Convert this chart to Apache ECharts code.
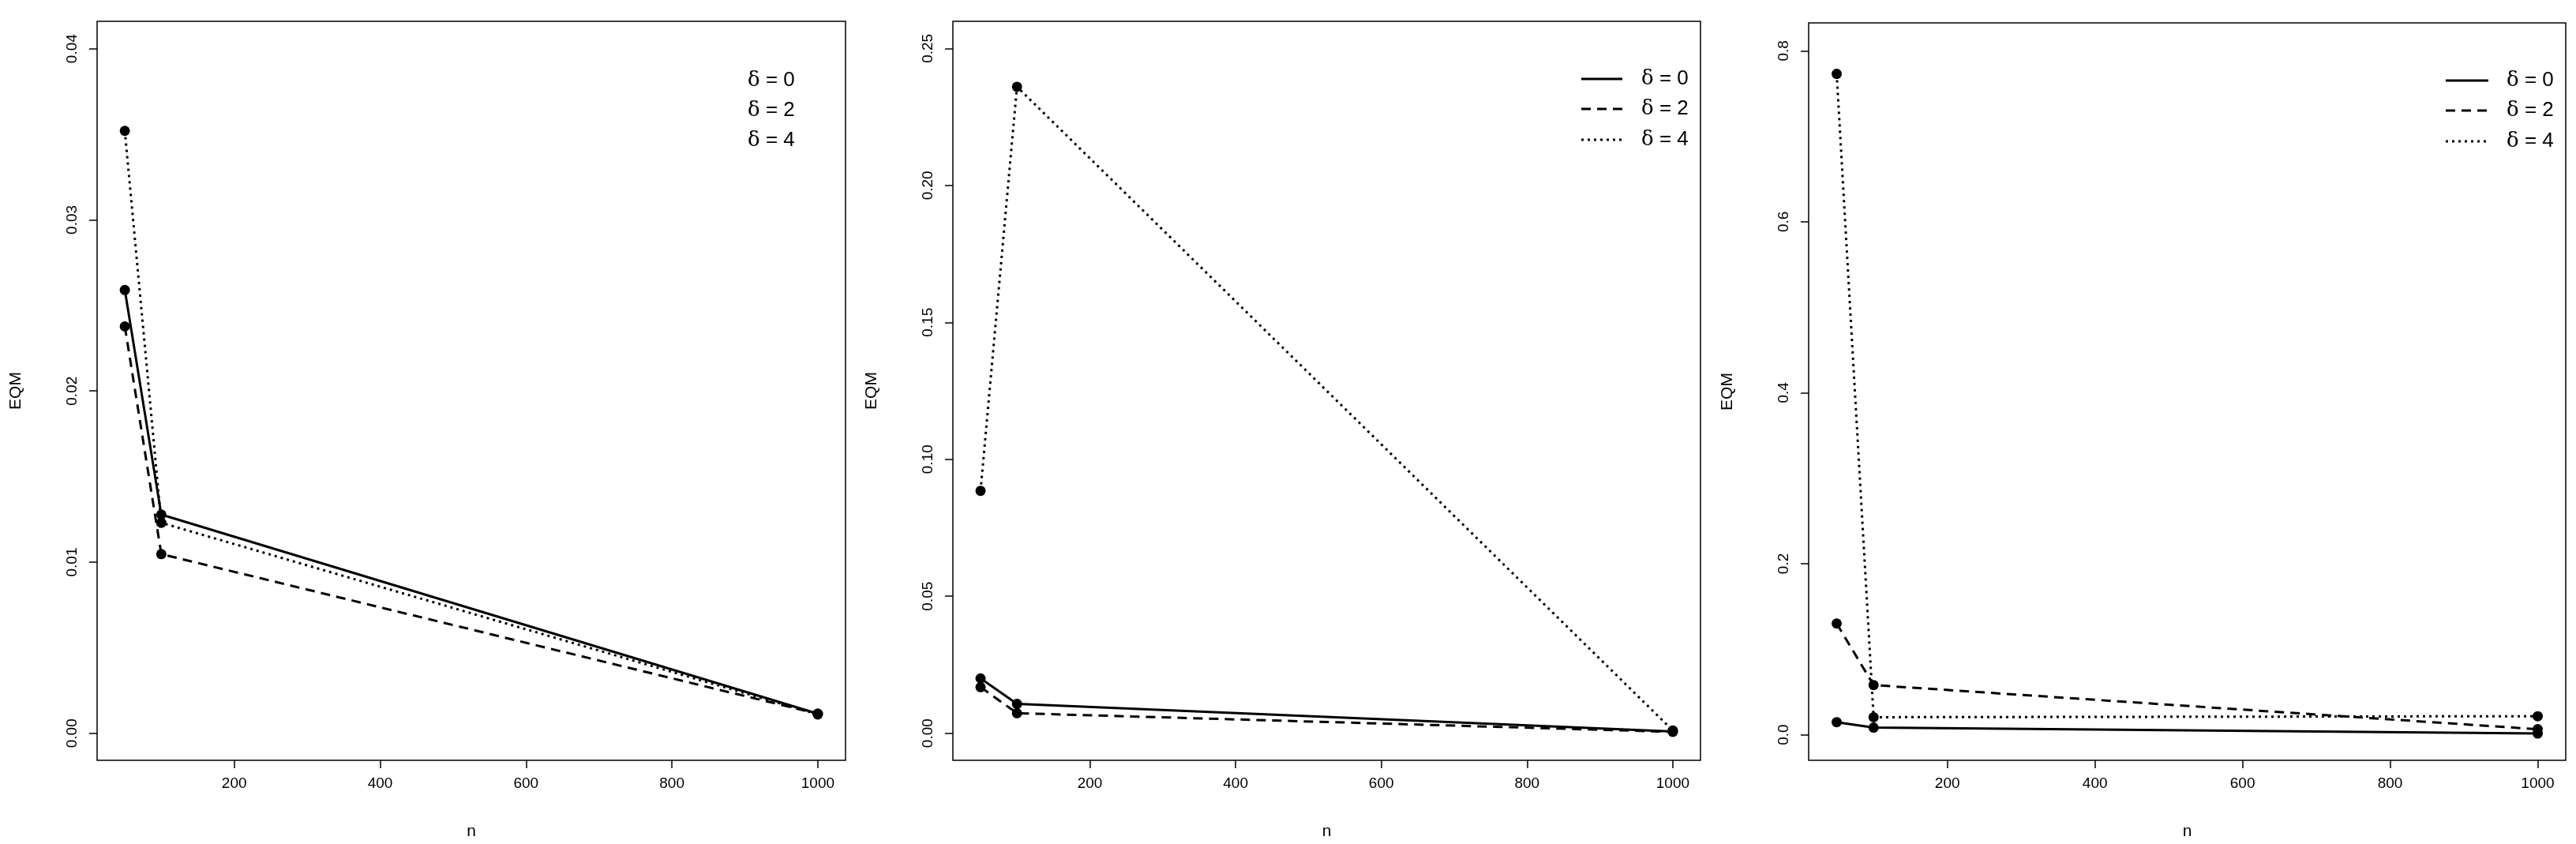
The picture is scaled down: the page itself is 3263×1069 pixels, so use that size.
<!DOCTYPE html>
<html><head><meta charset="utf-8">
<script src="https://cdn.jsdelivr.net/npm/echarts@6/dist/echarts.min.js"></script>
<style>html,body{margin:0;padding:0;background:#fff}#c{width:3263px;height:1069px}</style>
</head><body><div id="c"></div>
<script>
const nValues = [50, 100, 1000];
const seriesNames = ['δ = 0', 'δ = 2', 'δ = 4'];
const panel1 = { d0: [0.0259, 0.01278, 0.00114], d2: [0.02377, 0.01047, 0.00114], d4: [0.0352, 0.0123, 0.0011] };
const panel2 = { d0: [0.0200, 0.0107, 0.0006], d2: [0.0168, 0.0073, 0.0005], d4: [0.0885, 0.236, 0.0010] };
const panel3 = { d0: [0.0146, 0.0083, 0.0013], d2: [0.130, 0.058, 0.0064], d4: [0.773, 0.0204, 0.0216] };
const xTicks = [200, 400, 600, 800, 1000];
const yTicks1 = [0, 0.01, 0.02, 0.03, 0.04];
const yTicks2 = [0, 0.05, 0.10, 0.15, 0.20, 0.25];
const yTicks3 = [0, 0.2, 0.4, 0.6, 0.8];

const panels = [
  {data: panel1, grid: {left: 123, top: 27, width: 948, height: 956}, ymin: -0.00158, ymax: 0.0416, dec: 2, ticks: yTicks1},
  {data: panel2, grid: {left: 1207, top: 27, width: 947, height: 955}, ymin: -0.0099, ymax: 0.2599, dec: 2, ticks: yTicks2},
  {data: panel3, grid: {left: 2291, top: 29, width: 959, height: 951}, ymin: -0.030, ymax: 0.8326, dec: 1, ticks: yTicks3}
];
const styles = [{type: 'solid', width: 3}, {type: [12, 8], width: 3}, {type: [3, 5], width: 3}];
const font = 'Liberation Sans, Arial, sans-serif';

const grids = [], xAxes = [], yAxes = [], series = [];
panels.forEach((p, i) => {
  grids.push(Object.assign({show: true, borderColor: '#000', borderWidth: 1.5, backgroundColor: 'transparent'}, p.grid));
  xAxes.push({type: 'value', gridIndex: i, min: 12, max: 1038, position: 'bottom',
    name: 'n', nameLocation: 'middle', nameGap: 80, nameTextStyle: {fontFamily: font, fontSize: 21, color: '#000'},
    axisLine: {show: false, onZero: false}, splitLine: {show: false},
    axisTick: {show: true, length: 10, lineStyle: {color: '#000', width: 1.5}, customValues: xTicks},
    axisLabel: {fontFamily: font, fontSize: 19, color: '#000', margin: 20, customValues: xTicks, formatter: v => String(v)}});
  yAxes.push({type: 'value', gridIndex: i, min: p.ymin, max: p.ymax, position: 'left',
    name: 'EQM', nameLocation: 'middle', nameGap: 92, nameRotate: 90, nameTextStyle: {fontFamily: font, fontSize: 21, color: '#000'},
    axisLine: {show: false, onZero: false}, splitLine: {show: false},
    axisTick: {show: true, length: 10, lineStyle: {color: '#000', width: 1.5}, customValues: p.ticks},
    axisLabel: {fontFamily: font, fontSize: 19, color: '#000', margin: 22, rotate: 90, customValues: p.ticks,
      formatter: v => v.toFixed(p.dec)}});
  ['d0', 'd2', 'd4'].forEach((k, j) => {
    series.push({type: 'line', name: seriesNames[j], xAxisIndex: i, yAxisIndex: i,
      data: nValues.map((n, q) => [n, p.data[k][q]]),
      symbol: 'circle', symbolSize: 13, showAllSymbol: true,
      itemStyle: {color: '#000'}, lineStyle: Object.assign({color: '#000'}, styles[j]),
      silent: true, animation: false, z: 3 - j});
  });
});

const graphic = [];
const legendPos = [
  {lineX: null, textX: 947, ys: [102, 140, 178]},
  {lineX: [2003, 2055], textX: 2079, ys: [100, 138, 177]},
  {lineX: [3098, 3152], textX: 3175, ys: [102, 140, 179]}
];
legendPos.forEach(L => {
  L.ys.forEach((y, j) => {
    if (L.lineX) graphic.push({type: 'line', shape: {x1: L.lineX[0], y1: y, x2: L.lineX[1], y2: y},
      style: {stroke: '#000', lineWidth: 3, lineDash: styles[j].type === 'solid' ? null : styles[j].type}});
    graphic.push({type: 'text', x: L.textX, y: y, style: {
      text: '{d|δ} = ' + [0, 2, 4][j], fill: '#000', font: '26px ' + font, verticalAlign: 'middle',
      rich: {d: {fontFamily: 'DejaVu Serif, serif', fontSize: 26, fill: '#000'}}}});
  });
});

const chart = echarts.init(document.getElementById('c'));
chart.setOption({animation: false, backgroundColor: '#fff', grid: grids, xAxis: xAxes, yAxis: yAxes, series, graphic});
</script></body></html>
